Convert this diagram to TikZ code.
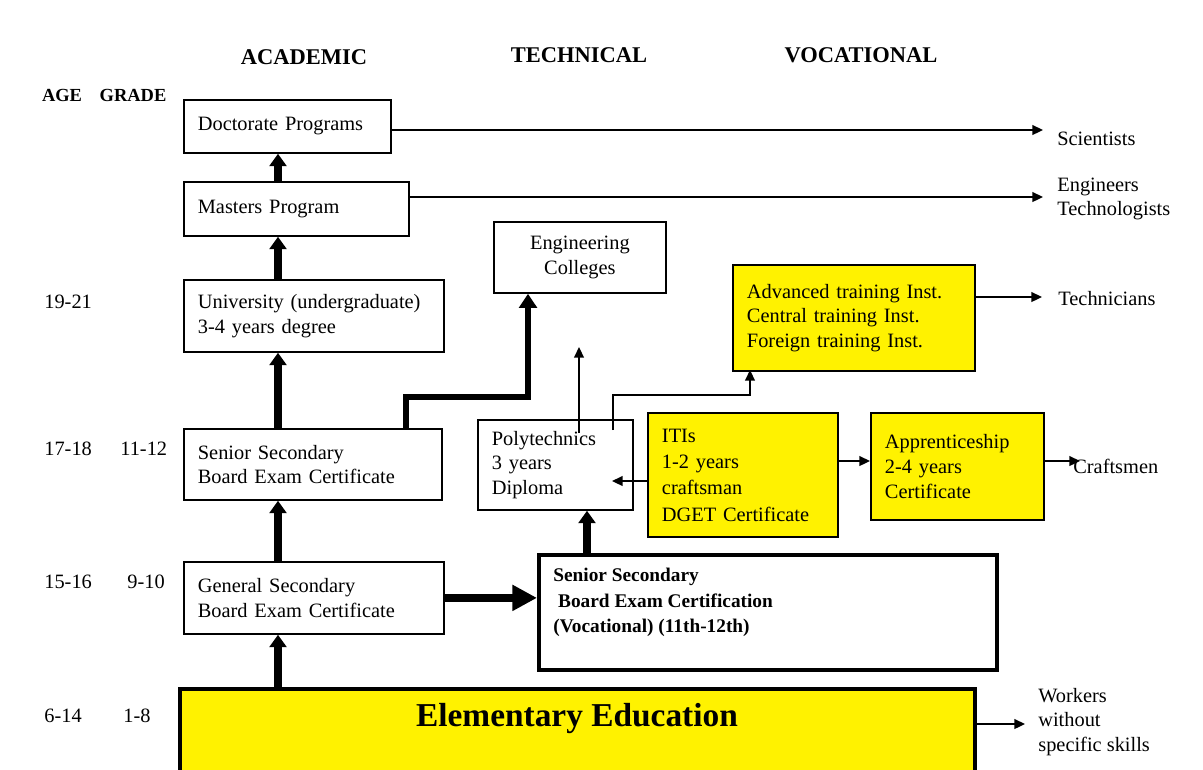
\documentclass[tikz,border=0pt]{standalone}
\usepackage{fontspec}
\setmainfont{Liberation Serif}
\usepackage{tikz}
\usetikzlibrary{arrows.meta}

\tikzset{
	prog/.style 2 args = {draw, line width = 1pt, anchor = north west, align = left,
		inner xsep = 0.28cm, inner ysep = 0pt, text width = {#1*0.02cm - 0.56cm},
		minimum height = {#2*0.02cm}},
	yprog/.style 2 args = {prog = {#1}{#2}, fill = yellow, line width = 1.1pt},
	head/.style = {font = \bfseries\fontsize{12.8}{15}\selectfont},
	side/.style = {anchor = west, align = left, inner sep = 0pt},
	arr/.style = {line width = 1pt, -{Triangle[length = 6pt, width = 5.5pt]}},
	bigarr/.style = {line width = 5pt, -{Triangle[length = 7pt, width = 9.5pt]}}
}

\begin{document}
\begin{tikzpicture}[x = 0.02cm, y = -0.02cm, font = \fontsize{11.6}{14}\selectfont]
	\path[use as bounding box] (0,0) rectangle (1203,769);
	\clip (0,0) rectangle (1203,769);

	% column heads
	\node[head] (acad) at (304,57) {ACADEMIC};
	\node[head] (tech) at (579,55) {TECHNICAL};
	\node[head] (voca) at (861,55) {VOCATIONAL};
	\node[font = \bfseries\fontsize{10.5}{12}\selectfont] (age) at (62,95) {AGE};
	\node[font = \bfseries\fontsize{10.5}{12}\selectfont] (grade) at (133,95) {GRADE};

	% ages and grades
	\node[side] (a1) at (44,302) {19-21};
	\node[side] (a2) at (44,449) {17-18};
	\node[side] (g2) at (120,449) {11-12};
	\node[side] (a3) at (44,582) {15-16};
	\node[side] (g3) at (127,582) {9-10};
	\node[side] (a4) at (44,716) {6-14};
	\node[side] (g4) at (123,716) {1-8};

	% academic
	\node[prog = {207}{53}] (doct) at (183,99) {Doctorate Programs};
	\node[prog = {225}{54}] (mast) at (183,181) {Masters Program};
	\node[prog = {260}{72}] (univ) at (183,279) {University (undergraduate)\\3-4 years degree};
	\node[prog = {258}{71}] (ssec) at (183,428) {Senior Secondary\\Board Exam Certificate};
	\node[prog = {260}{72}] (gsec) at (183,561) {General Secondary\\Board Exam Certificate};

	% technical
	\node[prog = {172}{71}, align = center] (engc) at (493,221) {Engineering\\Colleges};
	\node[prog = {155}{90}] (poly) at (477,419) {Polytechnics\\3 years\\Diploma};

	% vocational
	\node[yprog = {242}{106}] (adv) at (732,264) {Advanced training Inst.\\Central training Inst.\\Foreign training Inst.};
	\node[yprog = {190}{124}, font = \fontsize{11.6}{15}\selectfont] (iti) at (647,412) {ITIs\\1-2 years\\craftsman\\DGET Certificate};
	\node[yprog = {173}{107}] (appr) at (870,412) {Apprenticeship\\2-4 years\\Certificate};

	\node[draw, line width = 2pt, anchor = north west, inner sep = 0pt,
		minimum width = {458*0.02cm}, minimum height = {115*0.02cm}] (voc) at (537,553) {};
	\node[side, anchor = north west, font = \bfseries\fontsize{11}{14.5}\selectfont] (vocl) at (553,568)
		{Senior Secondary\\\hspace{0.25em}Board Exam Certification\\(Vocational) (11th-12th)};

	\node[draw, line width = 2.3pt, fill = yellow, anchor = north west, inner sep = 0pt,
		minimum width = {795*0.02cm}, minimum height = {100*0.02cm}] (elem) at (178,687) {};
	\node[font = \bfseries\fontsize{19}{22}\selectfont] (eleml) at (577,719) {Elementary Education};

	% outcomes
	\node[side] (sci) at (1057,139) {Scientists};
	\node[side] (engs) at (1057,199) {Engineers\\Technologists};
	\node[side] (techn) at (1058,299) {Technicians};
	\node[side] (craft) at (1073,466) {Craftsmen};
	\node[side] (work) at (1038,722) {Workers\\without\\specific skills};

	\coordinate (spine) at (278,0);
	\coordinate (vocup) at (587,0);
	\coordinate (bendA) at (406,397);
	\coordinate (bendB) at (528,397);
	\coordinate (scitip) at (1043,130);
	\coordinate (engtip) at (1043,197);
	\coordinate (techtip) at (1042,297);
	\coordinate (trade) at (0,461);
	\coordinate (crafttip) at (1080,461);
	\coordinate (worktip) at (1025,724);
	\coordinate (polytip) at (612,481);
	\coordinate (polyup) at (579,433);
	\coordinate (polyupend) at (579,347);
	\coordinate (polyout) at (613,430);
	\coordinate (advjoin) at (750,395);
	\coordinate (advin) at (750,370);

	\begin{scope}[bigarr]
		\draw (elem.north -| spine) -- (gsec.south -| spine);
		\draw (gsec.north -| spine) -- (ssec.south -| spine);
		\draw (ssec.north -| spine) -- (univ.south -| spine);
		\draw (univ.north -| spine) -- (mast.south -| spine);
		\draw (mast.north -| spine) -- (doct.south -| spine);
		\draw (voc.north -| vocup) -- (poly.south -| vocup);
		\draw[-{Triangle[length = 14pt, width = 14pt]}] (gsec.east) -- (gsec.east -| voc.west);
	\end{scope}
	\draw[line width = 3.5pt, -{Triangle[length = 8pt, width = 10pt]}]
		(ssec.north -| bendA) -- (bendA) -- (bendB) -- (engc.south -| bendB);

	\begin{scope}[arr]
		\draw (doct.east |- scitip) -- (scitip);
		\draw (mast.east |- engtip) -- (engtip);
		\draw (adv.east |- techtip) -- (techtip);
		\draw (iti.east |- trade) -- (appr.west |- trade);
		\draw (appr.east |- crafttip) -- (crafttip);
		\draw (elem.east |- worktip) -- (worktip);
		\draw (iti.west |- polytip) -- (polytip);
		\draw (polyup) -- (polyupend);
		\draw (polyout) |- (advjoin) -- (advin);
	\end{scope}
\end{tikzpicture}
\end{document}
